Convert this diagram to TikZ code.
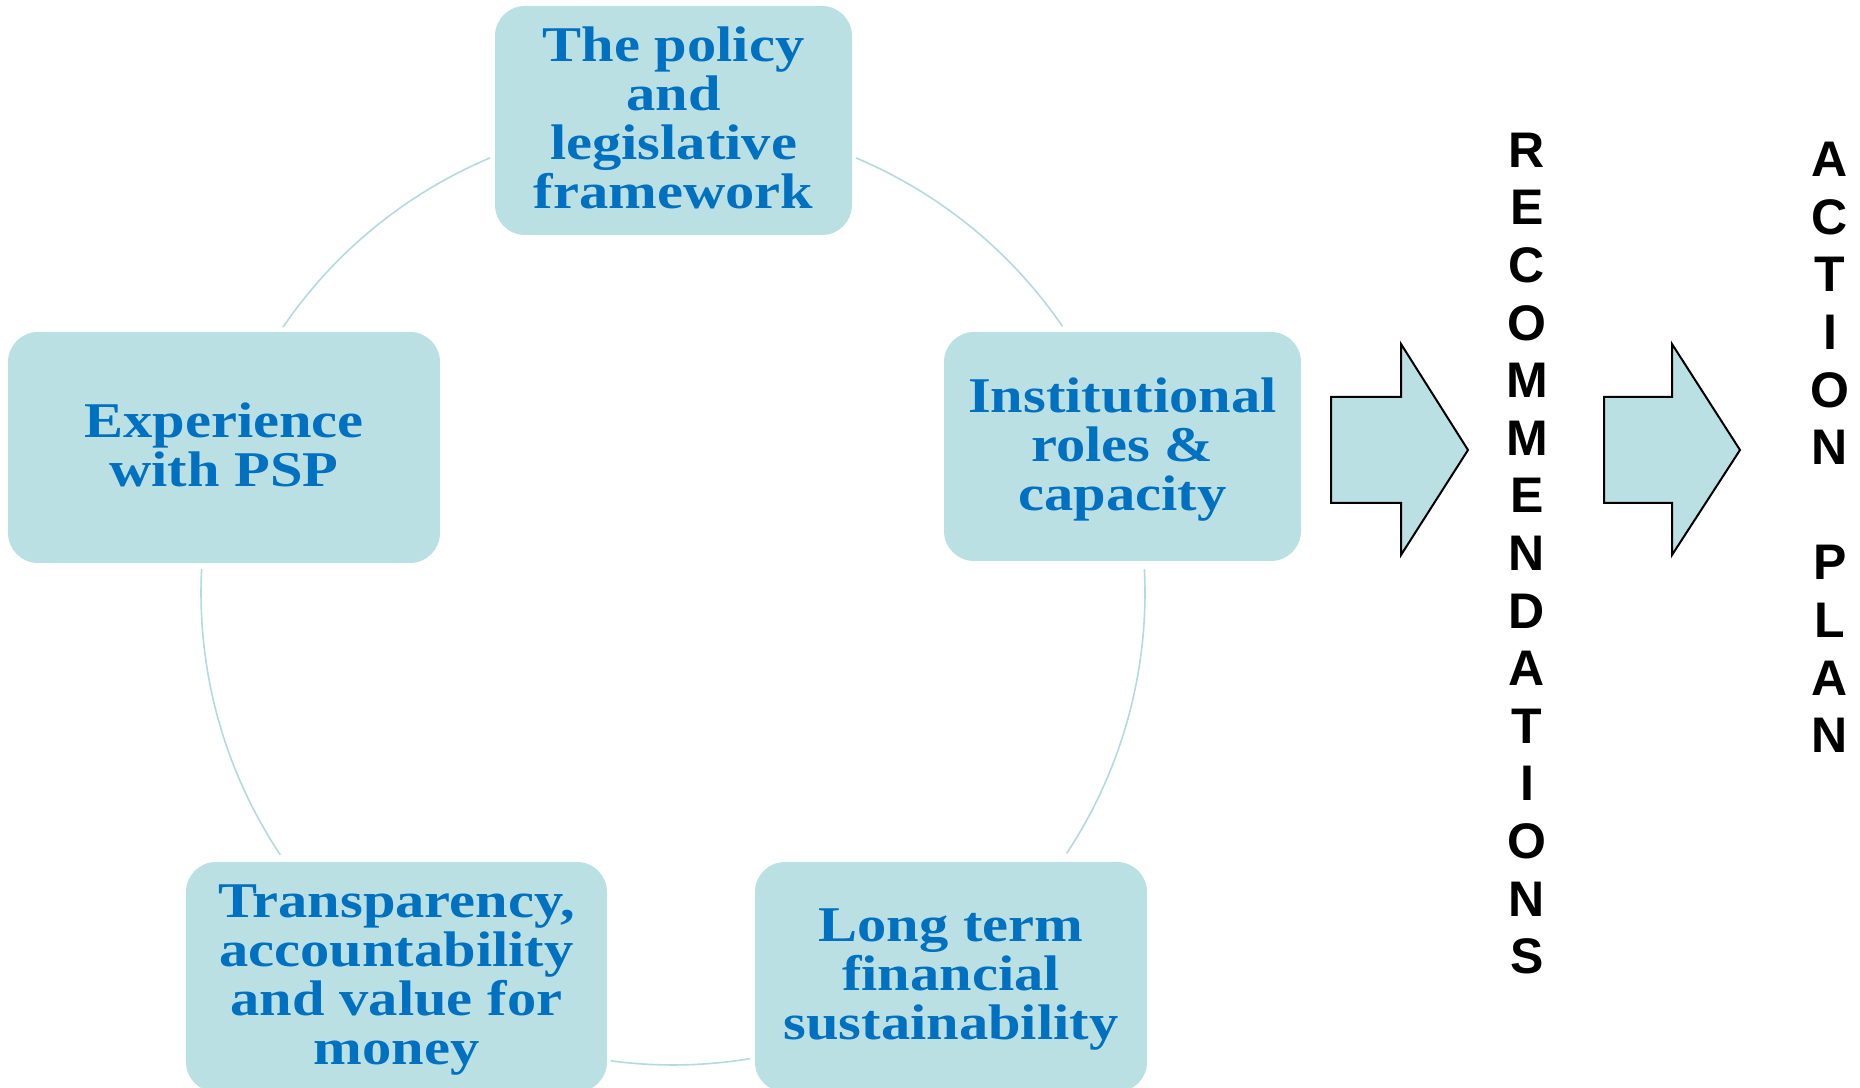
\documentclass[tikz,border=0pt]{standalone}
\usepackage{fontspec}
\newfontfamily\boxfont[FakeStretch=1.17]{Liberation Serif}
\newfontfamily\letfont{Liberation Sans}
\definecolor{boxfill}{HTML}{BBE0E3}
\definecolor{txtblue}{HTML}{0070C0}
\definecolor{cycline}{HTML}{B4DADE}
\tikzset{
  pbox/.style={fill=boxfill, rounded corners=15pt, inner sep=0pt},
  ptext/.style={text=txtblue, align=center,
    font={\boxfont\bfseries\fontsize{25pt}{24.5pt}\selectfont}, inner sep=0pt},
  cyc/.style={draw=cycline, line width=0.8pt},
  letters/.style={align=center, font={\letfont\bfseries\fontsize{25pt}{28.8pt}\selectfont}, inner sep=0pt},
  barrow/.style={fill=boxfill, draw=black, line width=1pt, line join=miter}
}
\begin{document}
\begin{tikzpicture}[x=0.5pt, y=0.5pt]
\useasboundingbox (0,0) rectangle (1860,1088);
\coordinate (c) at (673,495);
% cycle arcs
\draw[cyc] ([shift={(67.2:472)}]c) arc[start angle=67.2, end angle=34.4, radius=472];
\draw[cyc] ([shift={(2.9:472)}]c) arc[start angle=2.9, end angle=-33.5, radius=472];
\draw[cyc] ([shift={(-80.6:472)}]c) arc[start angle=-80.6, end angle=-97.6, radius=472];
\draw[cyc] ([shift={(-146.3:472)}]c) arc[start angle=-146.3, end angle=-182.9, radius=472];
\draw[cyc] ([shift={(145.7:472)}]c) arc[start angle=145.7, end angle=112.8, radius=472];
% boxes
\node[pbox, minimum width=178.5pt, minimum height=114.5pt] (policy) at (673.5,967.5) {};
\node[ptext] (policyt) at (673.5,970) {The policy\\and\\legislative\\framework};
\node[pbox, minimum width=216pt, minimum height=115.5pt] (exp) at (224,640.5) {};
\node[ptext] (expt) at (224,643) {Experience\\with PSP};
\node[pbox, minimum width=178.5pt, minimum height=114.5pt] (inst) at (1122.5,641.5) {};
\node[ptext] (instt) at (1122.5,638) {Institutional\\roles \&\\capacity};
\node[pbox, minimum width=210.5pt, minimum height=115pt] (transp) at (396.5,111) {};
\node[ptext] (transpt) at (396.5,108) {Transparency,\\accountability\\and value for\\money};
\node[pbox, minimum width=196pt, minimum height=115pt] (long) at (951,111) {};
\node[ptext] (longt) at (951,108) {Long term\\financial\\sustainability};
% block arrows
\draw[barrow] (1331,691) -- (1401,691) -- (1401,744) -- (1468,638) -- (1401,533) -- (1401,585) -- (1331,585) -- cycle;
\draw[barrow] (1604,691) -- (1672,691) -- (1672,744) -- (1740,638) -- (1672,533) -- (1672,585) -- (1604,585) -- cycle;
% vertical words
\node[letters] (recs) at (1527,534.5) {R\\E\\C\\O\\M\\M\\E\\N\\D\\A\\T\\I\\O\\N\\S};
\node[letters] (plan) at (1830,640.5) {A\\C\\T\\I\\O\\N\\\mbox{}\\P\\L\\A\\N};
\end{tikzpicture}
\end{document}
